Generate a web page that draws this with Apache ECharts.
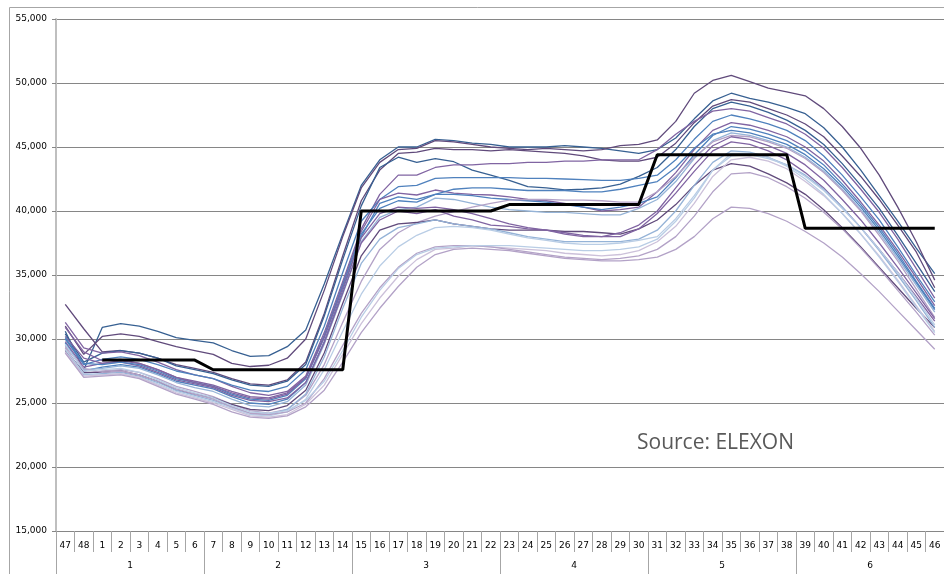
<!DOCTYPE html>
<html>
<head>
<meta charset="utf-8">
<script src="https://cdn.jsdelivr.net/npm/echarts@6/dist/echarts.min.js"></script>
<style>
  html, body { margin: 0; padding: 0; background: #fff; }
  #chart { width: 944px; height: 574px; }
</style>
</head>
<body>
<div id="chart"></div>
<script>
// half-hour settlement periods (day starts at 47, 48 of the day before)
const periods = ['47', '48', '1', '2', '3', '4', '5', '6', '7', '8', '9', '10', '11', '12', '13', '14',
  '15', '16', '17', '18', '19', '20', '21', '22', '23', '24', '25', '26', '27', '28', '29', '30',
  '31', '32', '33', '34', '35', '36', '37', '38', '39', '40', '41', '42', '43', '44', '45', '46'];
// 4-hour blocks
const blocks = ['1', '2', '3', '4', '5', '6'];

// demand profiles (MW)
const dayA = [30600, 27600, 30900, 31200, 31000, 30600, 30100, 29900, 29700, 29100, 28650, 28700, 29400, 30700, 34300, 38200, 42000, 44000, 45000, 45000, 45600, 45500, 45300, 45200, 45000, 45000, 45000, 45100, 45000, 44900, 44700, 44500, 44800, 45700, 47200, 48600, 49200, 48800, 48500, 48100, 47600, 46500, 45000, 43200, 41200, 39200, 37100, 35100];
const dayB = [31000, 28800, 30200, 30400, 30200, 29800, 29400, 29100, 28800, 28100, 27850, 27950, 28500, 30000, 33800, 38000, 41800, 43800, 44800, 44900, 45500, 45400, 45200, 45000, 44900, 44800, 44900, 44800, 44700, 44800, 45100, 45200, 45550, 47000, 49200, 50200, 50600, 50100, 49600, 49300, 49000, 48000, 46600, 44900, 42800, 40300, 37600, 34600];
const dayC = [32700, 30800, 29000, 29100, 28900, 28500, 28000, 27700, 27400, 26900, 26500, 26400, 26800, 28200, 32000, 36500, 40800, 43200, 44500, 44600, 44900, 44800, 44800, 44700, 44800, 44700, 44600, 44500, 44300, 44000, 43900, 43900, 44200, 45300, 46900, 48200, 48700, 48500, 48000, 47500, 46800, 45800, 44300, 42700, 40900, 38900, 36800, 34000];
const dayD = [30400, 28200, 28900, 29100, 28900, 28500, 27900, 27600, 27300, 26800, 26400, 26300, 26700, 28000, 31800, 36200, 40400, 43400, 44200, 43800, 44100, 43850, 43200, 42800, 42400, 41900, 41800, 41650, 41700, 41800, 42100, 42700, 43400, 44800, 46600, 48000, 48500, 48200, 47700, 47100, 46300, 45200, 43700, 42000, 40200, 38100, 35900, 33700];
const dayE = [31300, 29300, 28900, 29000, 28700, 28200, 27600, 27200, 26900, 26300, 25800, 25600, 25900, 27100, 30500, 34500, 38600, 41300, 42800, 42800, 43400, 43600, 43600, 43700, 43700, 43800, 43800, 43900, 43900, 44000, 44000, 44000, 44800, 46000, 47000, 47800, 48000, 47800, 47300, 46800, 46000, 44900, 43400, 41700, 39900, 37800, 35500, 33200];
const dayF = [30000, 28000, 28400, 28600, 28400, 28000, 27500, 27200, 26900, 26400, 26000, 25900, 26300, 27600, 31000, 35200, 39200, 40900, 41900, 42000, 42550, 42600, 42600, 42600, 42600, 42550, 42550, 42500, 42450, 42400, 42400, 42550, 42800, 44000, 45600, 47000, 47500, 47200, 46800, 46300, 45500, 44300, 42800, 41100, 39300, 37200, 35000, 32900];
const dayG = [29800, 27800, 28100, 28300, 28100, 27600, 27000, 26700, 26400, 25900, 25500, 25400, 25800, 27000, 30300, 34300, 38400, 40900, 41400, 41250, 41640, 41400, 41300, 41250, 41100, 40900, 40800, 40600, 40300, 40000, 40100, 40300, 41500, 43000, 44800, 46300, 46900, 46700, 46300, 45800, 45000, 43900, 42400, 40700, 38900, 36900, 34800, 32600];
const dayH = [29700, 27500, 27800, 28000, 27800, 27300, 26700, 26400, 26100, 25500, 25000, 24900, 25300, 26600, 29800, 33800, 38000, 40600, 41100, 40900, 41300, 41300, 41200, 41000, 40900, 40800, 40700, 40500, 40300, 40100, 40300, 40600, 41100, 42600, 44400, 45900, 46600, 46400, 46000, 45500, 44700, 43600, 42100, 40500, 38700, 36700, 34500, 32400];
const dayI = [29500, 27600, 27700, 27900, 27700, 27200, 26600, 26200, 25900, 25300, 24800, 24700, 25100, 26400, 29600, 33500, 37600, 39500, 40100, 40300, 41000, 40900, 40600, 40300, 40100, 40000, 39900, 39900, 39800, 39700, 39700, 40200, 40900, 42300, 44100, 45500, 46100, 45900, 45500, 45000, 44200, 43100, 41700, 40100, 38300, 36300, 34200, 32100];
const dayJ = [29300, 27300, 27500, 27600, 27400, 26900, 26300, 25900, 25500, 24900, 24400, 24200, 24500, 25600, 28000, 31300, 34500, 37000, 38300, 39100, 39600, 39950, 40300, 40600, 40850, 40900, 40900, 40850, 40850, 40800, 40700, 40700, 41500, 42700, 44200, 45400, 45900, 45800, 45400, 44900, 44100, 43000, 41600, 40000, 38100, 36100, 33900, 31700];
const dayK = [29100, 27400, 27400, 27500, 27200, 26700, 26000, 25700, 25400, 24900, 24500, 24400, 24800, 26000, 28900, 32800, 36500, 38500, 39000, 39100, 39300, 39000, 38800, 38600, 38500, 38500, 38500, 38400, 38400, 38300, 38200, 38600, 39300, 40500, 42000, 43200, 43700, 43500, 42900, 42200, 41300, 40100, 38700, 37200, 35600, 34000, 32400, 30900];
const dayL = [30200, 28500, 28100, 28200, 27900, 27400, 26800, 26500, 26200, 25600, 25200, 25100, 25400, 26600, 29700, 33600, 37500, 39300, 40000, 39800, 40100, 39600, 39300, 38900, 38800, 38600, 38500, 38300, 38100, 38000, 38000, 38600, 39800, 41400, 43100, 44700, 45400, 45200, 44700, 44000, 43000, 41800, 40300, 38700, 37000, 35200, 33300, 31400];
const dayM = [29000, 27200, 27300, 27400, 27100, 26600, 26000, 25600, 25200, 24700, 24200, 24100, 24500, 25700, 28600, 32400, 35900, 37800, 38700, 39000, 39300, 39000, 38800, 38600, 38300, 38000, 37800, 37600, 37600, 37600, 37600, 37800, 38500, 40000, 42000, 43800, 44700, 44600, 44200, 43600, 42800, 41700, 40300, 38700, 36900, 35000, 33000, 30900];
const dayN = [30100, 28100, 28000, 28200, 28000, 27500, 26900, 26600, 26300, 25700, 25300, 25200, 25600, 26900, 30200, 34200, 38200, 40200, 40800, 40700, 41300, 41700, 41800, 41800, 41700, 41600, 41600, 41600, 41500, 41500, 41700, 42000, 42300, 43400, 44900, 46000, 46300, 46100, 45700, 45200, 44400, 43300, 41900, 40300, 38500, 36500, 34400, 32300];
const dayO = [29200, 27300, 27200, 27300, 27000, 26500, 25900, 25500, 25100, 24600, 24100, 24000, 24300, 25300, 27600, 30600, 33500, 35700, 37200, 38100, 38700, 38800, 38700, 38500, 38200, 37900, 37700, 37500, 37400, 37400, 37500, 37700, 38000, 39400, 41200, 43200, 44300, 44400, 44100, 43600, 42700, 41600, 40200, 38700, 37000, 35200, 33200, 31100];
const dayP = [29000, 27100, 27200, 27300, 27000, 26400, 25800, 25400, 25000, 24500, 24000, 23900, 24100, 24900, 26400, 28800, 31200, 33200, 34900, 36200, 37000, 37100, 37300, 37200, 37100, 37000, 36900, 36700, 36600, 36500, 36600, 36900, 37600, 38800, 40600, 42700, 44000, 44200, 43900, 43300, 42300, 41200, 39800, 38200, 36500, 34600, 32600, 30600];
const dayQ = [29400, 27700, 27400, 27500, 27200, 26700, 26100, 25700, 25300, 24700, 24200, 24100, 24300, 25000, 26900, 29500, 32000, 34000, 35600, 36700, 37200, 37300, 37300, 37200, 37000, 36800, 36600, 36400, 36300, 36200, 36300, 36500, 37000, 38000, 39600, 41500, 42900, 43000, 42600, 41900, 41000, 39900, 38600, 37100, 35500, 33800, 32100, 30300];
const dayR = [28900, 27000, 27100, 27200, 26900, 26300, 25700, 25300, 24900, 24300, 23900, 23800, 24000, 24700, 26000, 28200, 30500, 32400, 34100, 35600, 36600, 37000, 37100, 37000, 36900, 36700, 36500, 36300, 36200, 36100, 36100, 36200, 36400, 37000, 38000, 39400, 40300, 40200, 39800, 39200, 38400, 37500, 36400, 35100, 33700, 32200, 30700, 29200];
const dayS = [30900, 29000, 28300, 28400, 28100, 27600, 27000, 26600, 26300, 25800, 25400, 25300, 25700, 27000, 30100, 34000, 37900, 39800, 40300, 40200, 40300, 40100, 39800, 39400, 39000, 38700, 38500, 38200, 38000, 38000, 38300, 38900, 40000, 41800, 43600, 45100, 45800, 45600, 45100, 44500, 43600, 42400, 40900, 39300, 37500, 35600, 33600, 31600];
const dayT = [29600, 27500, 27600, 27700, 27400, 26800, 26200, 25800, 25400, 24800, 24300, 24200, 24400, 25200, 26700, 29100, 31700, 33800, 35500, 36600, 37100, 37200, 37300, 37300, 37300, 37200, 37100, 37000, 36900, 36900, 37000, 37200, 37800, 39200, 41000, 43200, 44500, 44500, 44200, 43500, 42500, 41300, 39800, 38200, 36400, 34500, 32500, 30500];

// block levels (black step line)
const blockLevel = [null, null, 28350, 28350, 28350, 28350, 28350, 28350,
  27600, 27600, 27600, 27600, 27600, 27600, 27600, 27600,
  40000, 40000, 40000, 40000, 40000, 40000, 40000, 40000,
  40500, 40500, 40500, 40500, 40500, 40500, 40500, 40500,
  44400, 44400, 44400, 44400, 44400, 44400, 44400, 44400,
  38650, 38650, 38650, 38650, 38650, 38650, 38650, 38650];

const profiles = [dayA, dayB, dayC, dayD, dayE, dayF, dayG, dayH, dayI, dayJ,
  dayK, dayL, dayM, dayN, dayO, dayP, dayQ, dayR, dayS, dayT];
const lineColors = ['#376092', '#604A7B', '#604A7B', '#376092', '#8064A2', '#4F81BD', '#8064A2', '#4F81BD', '#95B3D7', '#B3A2C7',
  '#604A7B', '#8064A2', '#95B3D7', '#4F81BD', '#B9CDE5', '#CCC1DA', '#B3A2C7', '#B3A2C7', '#8064A2', '#B9CDE5'];

var dom = document.getElementById('chart');
var myChart = echarts.init(dom, null, { renderer: 'canvas' });

const series = profiles.map(function (d, i) {
    return {
        type: 'line',
        data: d,
        symbol: 'none',
        lineStyle: { width: 1.3, color: lineColors[i] },
        z: 2
    };
});
series.push({
    type: 'line',
    data: blockLevel,
    symbol: 'none',
    lineStyle: { width: 3, color: '#000' },
    z: 5
});

const option = {
    animation: false,
    textStyle: { fontFamily: 'DejaVu Sans' },
    grid: { left: 56, right: 0, top: 19, bottom: 43, containLabel: false, outerBoundsMode: 'none' },
    xAxis: [
        {
            type: 'category',
            data: periods,
            position: 'bottom',
            axisLine: { show: true, lineStyle: { color: '#868686' } },
            axisTick: { show: true, interval: 0, alignWithLabel: false, length: 21, lineStyle: { color: '#A6A6A6', width: 1 } },
            axisLabel: { interval: 0, margin: 10, fontSize: 9, color: '#000' },
            splitLine: { show: false }
        },
        {
            type: 'category',
            data: blocks,
            position: 'bottom',
            axisLine: { show: false },
            axisTick: { show: true, interval: 0, alignWithLabel: false, length: 43, lineStyle: { color: '#A6A6A6', width: 1 } },
            axisLabel: { interval: 0, margin: 30, fontSize: 9, color: '#000' },
            splitLine: { show: false }
        }
    ],
    yAxis: {
        type: 'value',
        min: 15000,
        max: 55000,
        interval: 5000,
        axisLine: { show: true, lineStyle: { color: '#BFBFBF', width: 2 } },
        axisTick: { show: true, length: 4, lineStyle: { color: '#868686' } },
        axisLabel: {
            margin: 9, fontSize: 9, color: '#000',
            formatter: function (v) { return v.toLocaleString('en-US'); }
        },
        splitLine: { lineStyle: { color: '#868686' } }
    },
    graphic: [
        {
            type: 'rect',
            shape: { x: 9.5, y: 7.5, width: 940, height: 570 },
            style: { fill: 'none', stroke: '#A6A6A6', lineWidth: 1 },
            silent: true
        },
        {
            type: 'text',
            x: 637,
            y: 443,
            style: { text: 'Source: ELEXON', font: '21px "Open Sans"', fill: '#595959', verticalAlign: 'middle' },
            silent: true
        }
    ],
    series: series
};

myChart.setOption(option);
window.addEventListener('resize', myChart.resize);
</script>
</body>
</html>
